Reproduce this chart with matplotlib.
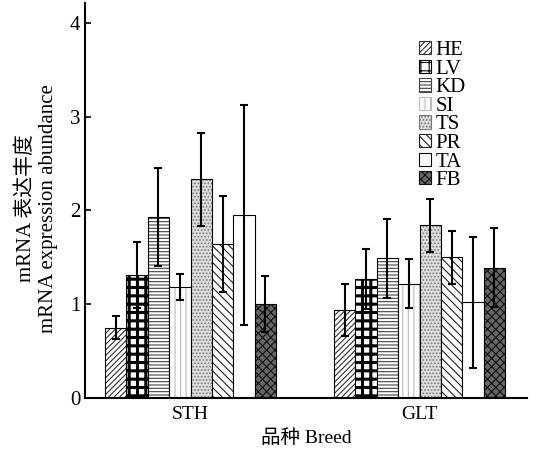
import numpy as np
import matplotlib
matplotlib.use('Agg')
import matplotlib.pyplot as plt
from matplotlib.patches import Patch

plt.rcParams['font.family'] = ['Liberation Serif', 'Noto Sans CJK SC']
plt.rcParams['hatch.linewidth'] = 0.8

breeds = ['STH', 'GLT']
tissues = ['HE', 'LV', 'KD', 'SI', 'TS', 'PR', 'TA', 'FB']
# mean values per tissue: [STH, GLT]
means = {
    'HE': [0.75, 0.94],
    'LV': [1.31, 1.27],
    'KD': [1.93, 1.49],
    'SI': [1.18, 1.22],
    'TS': [2.33, 1.84],
    'PR': [1.64, 1.50],
    'TA': [1.95, 1.02],
    'FB': [1.00, 1.39],
}
errs = {
    'HE': [0.12, 0.28],
    'LV': [0.35, 0.32],
    'KD': [0.52, 0.42],
    'SI': [0.14, 0.26],
    'TS': [0.50, 0.28],
    'PR': [0.51, 0.28],
    'TA': [1.17, 0.70],
    'FB': [0.30, 0.42],
}
# (face, hatch, hatch colour, hatch width)
styles = {
    'HE': ('white', '//////', '#333333', 0.8),
    'LV': ('white', '++', 'black', 2.2),
    'KD': ('white', '-----', '#444444', 0.8),
    'SI': ('white', '|||', '#bbbbbb', 0.8),
    'TS': ('#dddddd', '.....', '#777777', 0.8),
    'PR': ('white', '\\\\\\\\', '#222222', 0.8),
    'TA': ('white', '', 'white', 0.8),
    'FB': ('#666666', 'xxxx', '#111111', 0.8),
}

fig = plt.figure(figsize=(5.36, 4.55), dpi=100)
ax = fig.add_axes([0.1586, 0.1253, 0.8246, 0.868])

x = np.arange(len(breeds))
w = 0.0934
handles = []
for i, t in enumerate(tissues):
    pos = x + (i - 3.5) * w
    face, hatch, hc, hlw = styles[t]
    with plt.rc_context({'hatch.linewidth': hlw}):
        ax.bar(pos, means[t], w, color=face, hatch=hatch, edgecolor=hc, linewidth=0)
        handles.append(Patch(facecolor=face, hatch=hatch,
                             edgecolor=hc if hatch else 'black', linewidth=0.8))
    ax.bar(pos, means[t], w, fill=False, edgecolor='black', linewidth=0.8)
    ax.errorbar(pos, means[t], yerr=errs[t], fmt='none', ecolor='black',
                elinewidth=1.5, capsize=3, capthick=1.5)

ax.legend(handles, tissues, loc='upper left', bbox_to_anchor=(0.732, 0.93),
          frameon=False, fontsize=15, handlelength=0.6, handleheight=0.6,
          handletextpad=0.2, labelspacing=-0.02, borderpad=0)

ax.set_xlim(-0.4607, 1.469)
ax.set_ylim(0, 4.21)
ax.set_yticks([0, 1, 2, 3, 4])
ax.set_xticks(x)
ax.set_xticklabels(breeds, fontsize=14)
ax.tick_params(axis='y', direction='in', labelsize=15, length=4, width=1.2)
ax.tick_params(axis='x', length=0, pad=6)
ax.spines['top'].set_visible(False)
ax.spines['right'].set_visible(False)
ax.spines['left'].set_linewidth(1.5)
ax.spines['bottom'].set_linewidth(1.5)
ax.set_ylabel('mRNA 表达丰度\nmRNA expression abundance', fontsize=15, linespacing=1.2)
ax.yaxis.set_label_coords(-0.062, 0.48)
ax.set_xlabel('品种 Breed', fontsize=14, labelpad=4)

plt.savefig('out.png', dpi=100)
